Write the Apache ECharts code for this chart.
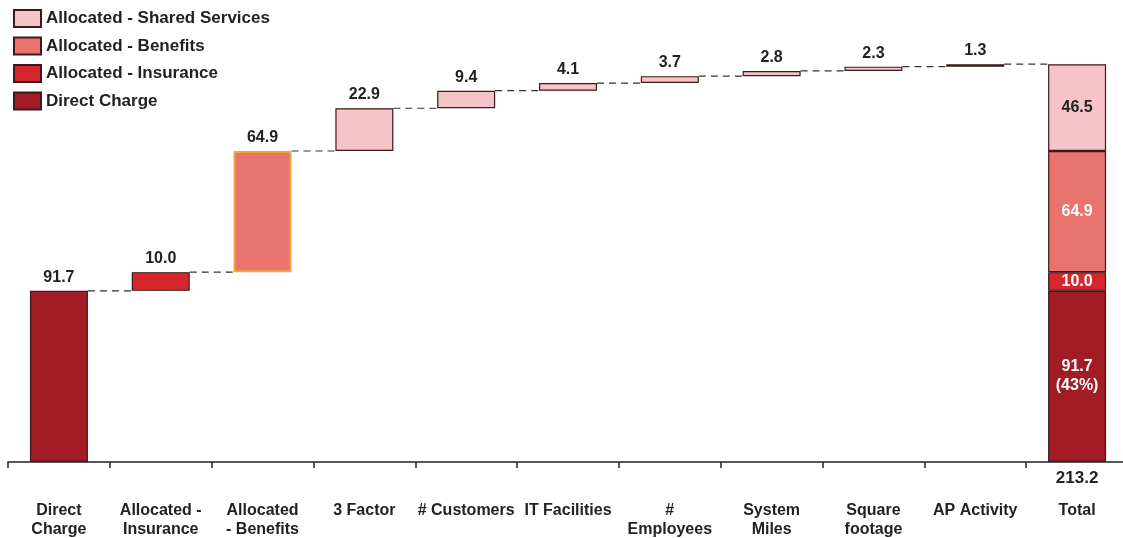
<!DOCTYPE html>
<html>
<head>
<meta charset="utf-8">
<script src="https://cdn.jsdelivr.net/npm/echarts@6/dist/echarts.min.js"></script>
<style>
  html, body { margin: 0; padding: 0; background: #fff; }
  #main { width: 1123px; height: 538px; }
</style>
</head>
<body>
<div id="main"></div>
<script>
const categories = ['Direct\nCharge', 'Allocated -\nInsurance', 'Allocated\n- Benefits', '3 Factor', '# Customers',
  'IT Facilities', '#\nEmployees', 'System\nMiles', 'Square\nfootage', 'AP Activity', 'Total'];
const directCharge = 91.7;
const insurance = 10.0;
const benefits = 64.9;
const sharedSteps = [22.9, 9.4, 4.1, 3.7, 2.8, 2.3, 1.3];
const totalValue = 213.2;

const chartDom = document.getElementById('main');
const myChart = echarts.init(chartDom);

const FONT = '"Liberation Sans", Arial, sans-serif';
const cDirect = '#a11c24';
const cIns = '#d6282c';
const cBen = '#e8736f';
const cShared = '#f5c3c8';
const edge = '#3a1a1a';
const BAR_W = 58;

// waterfall steps, then the total column at the end
const steps = [directCharge, insurance, benefits].concat(sharedSteps);
const base = [];
const cum = [];
let run = 0;
steps.forEach(v => { base.push(Math.round(run * 10) / 10); run += v; cum.push(Math.round(run * 10) / 10); });
const last = categories.length - 1;
const sharedTotal = Math.round(sharedSteps.reduce((a, b) => a + b, 0) * 10) / 10;

const empty = () => categories.map(() => '-');
const baseData = base.concat([0]);
baseData[last] = {
  value: 0,
  label: { show: true, position: 'bottom', distance: 8, formatter: totalValue.toFixed(1),
    color: '#222', fontWeight: 'bold', fontSize: 17, fontFamily: FONT }
};

const inside = (val, color, text) => ({
  value: val,
  label: { position: 'inside', color: color, formatter: text || val.toFixed(1) }
});

const directData = empty();
directData[0] = directCharge;
directData[last] = inside(directCharge, '#fff',
  directCharge.toFixed(1) + '\n(' + Math.round(directCharge / totalValue * 100) + '%)');

const insData = empty();
insData[1] = insurance;
insData[last] = inside(insurance, '#fff');

const benData = empty();
benData[2] = { value: benefits, itemStyle: { borderColor: '#f2a43a', borderWidth: 2 } };
benData[last] = inside(benefits, '#fff');

const sharedData = empty();
sharedSteps.forEach((v, i) => { sharedData[3 + i] = v; });
sharedData[last] = inside(sharedTotal, '#222');

// dashed link from each bar's top to the next bar
const links = cum.map((v, i) => [i, v]);

const barLabel = {
  show: true,
  position: 'top',
  distance: 4,
  color: '#222',
  fontWeight: 'bold',
  fontSize: 16,
  fontFamily: FONT,
  lineHeight: 19,
  formatter: p => Number(p.value).toFixed(1)
};

const bar = (name, data, color) => ({
  name: name,
  type: 'bar',
  stack: 'w',
  barWidth: BAR_W,
  z: 3,
  data: data,
  itemStyle: { color: color, borderColor: edge, borderWidth: 1.2 },
  label: barLabel
});

let option = {
  animation: false,
  legend: {
    data: ['Allocated - Shared Services', 'Allocated - Benefits', 'Allocated - Insurance', 'Direct Charge'],
    orient: 'vertical',
    icon: 'rect',
    left: 8,
    top: 4,
    itemWidth: 27,
    itemHeight: 17,
    itemGap: 8.5,
    textStyle: { fontSize: 17, fontWeight: 'bold', color: '#222', fontFamily: FONT }
  },
  grid: { left: 8, right: -5, top: 14, bottom: 76, outerBoundsMode: 'none' },
  xAxis: {
    type: 'category',
    data: categories,
    axisLine: { lineStyle: { color: '#222', width: 1.5 } },
    axisTick: { show: true, length: 6, lineStyle: { color: '#222', width: 1.5 } },
    axisLabel: {
      interval: 0, margin: 39, color: '#222', fontWeight: 'bold', fontSize: 16,
      lineHeight: 19, fontFamily: FONT, verticalAlign: 'top'
    }
  },
  yAxis: { type: 'value', min: 0, max: 240, show: false },
  series: [
    {
      name: 'connector',
      type: 'custom',
      z: 1,
      data: links,
      renderItem: (params, api) => {
        const p = api.coord([api.value(0), api.value(1)]);
        const band = api.size([1, 0])[0];
        return {
          type: 'line',
          shape: { x1: p[0] + BAR_W / 2, y1: p[1], x2: p[0] + band - BAR_W / 2, y2: p[1] },
          style: { stroke: '#333', lineWidth: 1.2, lineDash: [7, 5] }
        };
      }
    },
    {
      name: 'base',
      type: 'bar',
      stack: 'w',
      barWidth: BAR_W,
      data: baseData,
      itemStyle: { color: 'transparent' }
    },
    bar('Direct Charge', directData, cDirect),
    bar('Allocated - Insurance', insData, cIns),
    bar('Allocated - Benefits', benData, cBen),
    bar('Allocated - Shared Services', sharedData, cShared)
  ]
};

myChart.setOption(option);
</script>
</body>
</html>
